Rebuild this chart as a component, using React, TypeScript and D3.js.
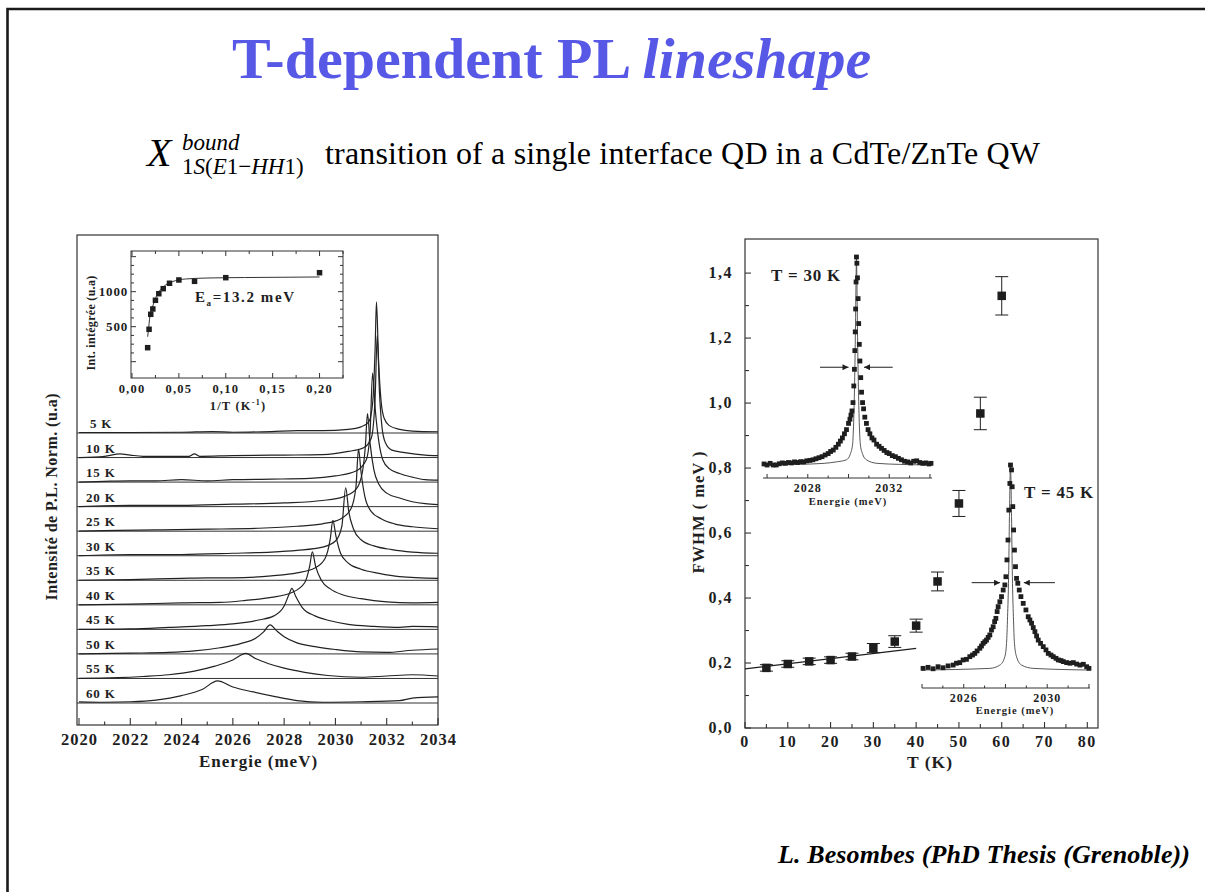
import React from "react";
import * as d3 from "d3";

type P = [number, number];

// ---------- LEFT: stacked PL spectra ----------
const temperatures = ["5 K", "10 K", "15 K", "20 K", "25 K", "30 K", "35 K", "40 K", "45 K", "50 K", "55 K", "60 K"];

const spec5K: P[] = [[2020, 0.02], [2022, 0.02], [2024, 0.03], [2025.2, 0.06], [2026, 0.03], [2027.5, 0.06], [2028.5, 0.1], [2029.5, 0.1], [2030.5, 0.15], [2031, 0.25], [2031.3, 0.45], [2031.45, 1.2], [2031.55, 3.5], [2031.6, 5.34], [2031.68, 3.0], [2031.78, 1.3], [2031.9, 0.6], [2032.1, 0.3], [2032.5, 0.15], [2033, 0.08], [2034, 0.05]];
const spec10K: P[] = [[2020, 0.0], [2021, 0.05], [2021.6, 0.15], [2022, 0.1], [2022.5, 0.05], [2024.3, 0.05], [2024.5, 0.15], [2024.7, 0.05], [2026, 0.08], [2028, 0.1], [2029.5, 0.12], [2030.5, 0.25], [2031.1, 0.4], [2031.4, 0.8], [2031.55, 2.5], [2031.63, 4.97], [2031.72, 2.6], [2031.82, 1.2], [2031.95, 0.6], [2032.2, 0.3], [2032.7, 0.2], [2033.5, 0.1], [2034, 0.08]];
const spec15K: P[] = [[2020, 0], [2021, 0.03], [2022, 0.05], [2023, 0.05], [2024, 0.1], [2025, 0.05], [2026, 0.1], [2027.5, 0.12], [2029, 0.15], [2030, 0.25], [2030.8, 0.45], [2031.2, 0.9], [2031.35, 2.0], [2031.45, 4.44], [2031.55, 3.0], [2031.7, 1.6], [2031.85, 0.9], [2032.1, 0.55], [2032.5, 0.35], [2033, 0.2], [2033.5, 0.1], [2034, 0.08]];
const spec20K: P[] = [[2020, 0], [2022, 0.05], [2024, 0.05], [2026, 0.1], [2028, 0.15], [2029.5, 0.25], [2030.3, 0.4], [2030.8, 0.7], [2031.05, 1.4], [2031.17, 2.5], [2031.25, 3.79], [2031.35, 2.6], [2031.5, 1.5], [2031.7, 0.9], [2032, 0.55], [2032.5, 0.35], [2033, 0.2], [2033.5, 0.12], [2034, 0.08]];
const spec25K: P[] = [[2020, 0], [2021.5, 0.03], [2023, 0.05], [2025, 0.08], [2027, 0.12], [2028.5, 0.2], [2029.5, 0.3], [2030.2, 0.5], [2030.6, 0.9], [2030.8, 1.8], [2030.9, 3.34], [2031.0, 2.4], [2031.15, 1.4], [2031.4, 0.8], [2031.8, 0.5], [2032.3, 0.3], [2033, 0.18], [2034, 0.1]];
const spec30K: P[] = [[2020, 0], [2022, 0.05], [2024, 0.05], [2026, 0.1], [2027.5, 0.15], [2028.5, 0.22], [2029.5, 0.35], [2030, 0.6], [2030.25, 1.2], [2030.4, 2.77], [2030.52, 1.8], [2030.7, 1.1], [2031, 0.65], [2031.5, 0.4], [2032.2, 0.25], [2033, 0.15], [2034, 0.1]];
const spec35K: P[] = [[2020, 0], [2022, 0.03], [2024, 0.08], [2025, 0.1], [2026, 0.1], [2027.5, 0.18], [2028.5, 0.3], [2029.2, 0.5], [2029.6, 0.9], [2029.8, 1.7], [2029.9, 2.44], [2030.02, 1.8], [2030.2, 1.1], [2030.5, 0.7], [2031, 0.45], [2031.7, 0.28], [2032.5, 0.15], [2034, 0.08]];
const spec40K: P[] = [[2020, 0], [2022, 0.03], [2024, 0.08], [2025.5, 0.1], [2026.5, 0.18], [2027.5, 0.3], [2028.3, 0.5], [2028.8, 0.9], [2029, 1.6], [2029.1, 2.16], [2029.22, 1.6], [2029.45, 1.0], [2029.8, 0.65], [2030.3, 0.4], [2031, 0.25], [2032, 0.12], [2033, 0.08], [2034, 0.1]];
const spec45K: P[] = [[2020, 0], [2022, 0.02], [2023.5, 0.08], [2025, 0.15], [2026, 0.22], [2027, 0.38], [2027.6, 0.55], [2028, 0.95], [2028.2, 1.45], [2028.3, 1.67], [2028.45, 1.35], [2028.7, 0.9], [2029.2, 0.55], [2029.8, 0.35], [2030.5, 0.2], [2031.5, 0.12], [2032.5, 0.08], [2033, 0.12], [2034, 0.1]];
const spec50K: P[] = [[2020, 0], [2022, 0.03], [2023.5, 0.06], [2024.5, 0.12], [2025.5, 0.25], [2026.3, 0.42], [2026.9, 0.65], [2027.2, 0.9], [2027.45, 1.18], [2027.7, 0.95], [2028, 0.7], [2028.5, 0.45], [2029.2, 0.3], [2030, 0.18], [2031, 0.08], [2032, 0.06], [2033, 0.15], [2034, 0.2]];
const spec55K: P[] = [[2020, 0], [2021.5, 0.03], [2022.5, 0.08], [2023.5, 0.15], [2024.5, 0.3], [2025.3, 0.5], [2026, 0.75], [2026.5, 1.02], [2026.9, 0.8], [2027.4, 0.6], [2028, 0.42], [2028.8, 0.25], [2029.7, 0.12], [2031, 0.05], [2032, 0.1], [2033, 0.15], [2034, 0.1]];
const spec60K: P[] = [[2020, 0.05], [2021, 0.03], [2022, 0.05], [2023, 0.12], [2024, 0.3], [2024.8, 0.55], [2025.4, 0.9], [2026, 0.65], [2026.8, 0.45], [2027.7, 0.25], [2028.5, 0.1], [2029.5, 0.03], [2031, 0.05], [2032.5, 0.1], [2033, 0.2], [2034, 0.25]];
const spectra = [spec5K, spec10K, spec15K, spec20K, spec25K, spec30K, spec35K, spec40K, spec45K, spec50K, spec55K, spec60K];

const energyTicks = [2020, 2022, 2024, 2026, 2028, 2030, 2032, 2034];

// inset: integrated intensity vs 1/T
const invT = [0.2, 0.1, 0.0667, 0.05, 0.04, 0.0333, 0.0286, 0.025, 0.0222, 0.02, 0.0182, 0.0167];
const intInteg = [1271, 1200, 1148, 1167, 1120, 1043, 971, 877, 753, 677, 463, 200];
const arrheniusFit: P[] = [[0.0167, 357], [0.0175, 450], [0.019, 640], [0.021, 740], [0.0246, 891], [0.028, 985], [0.033, 1063], [0.038, 1115], [0.043, 1143], [0.05, 1170], [0.057, 1181], [0.08, 1195], [0.12, 1202], [0.2, 1210]];
const invTTicks = [0, 0.05, 0.1, 0.15, 0.2];
const intTicks = [500, 1000];

// ---------- RIGHT: FWHM vs T ----------
const fwhmT = [5, 10, 15, 20, 25, 30, 35, 40, 45, 50, 55, 60];
const fwhmVal = [0.185, 0.197, 0.205, 0.209, 0.22, 0.246, 0.266, 0.315, 0.451, 0.691, 0.968, 1.33];
const fwhmErr = [0.01, 0.01, 0.01, 0.01, 0.01, 0.014, 0.018, 0.02, 0.029, 0.04, 0.05, 0.059];
const fwhmFit: P[] = [[0, 0.182], [40, 0.245]];
const tTicks = [0, 10, 20, 30, 40, 50, 60, 70, 80];
const fwhmTicks = [0, 0.2, 0.4, 0.6, 0.8, 1.0, 1.2, 1.4];

// inset T = 30 K
const inset30Data: P[] = [[2025.85, 0.005], [2026.0, 0.0], [2026.15, 0.008], [2026.3, 0.0], [2026.45, 0.0], [2026.6, 0.006], [2026.75, 0.01], [2026.9, 0.008], [2027.05, 0.012], [2027.2, 0.01], [2027.35, 0.015], [2027.5, 0.012], [2027.65, 0.016], [2027.8, 0.015], [2027.95, 0.02], [2028.1, 0.022], [2028.25, 0.025], [2028.4, 0.03], [2028.55, 0.035], [2028.7, 0.04], [2028.85, 0.048], [2029.0, 0.055], [2029.12, 0.065], [2029.25, 0.072], [2029.38, 0.085], [2029.5, 0.1], [2029.6, 0.115], [2029.7, 0.13], [2029.8, 0.15], [2029.9, 0.17], [2030.0, 0.2], [2030.07, 0.22], [2030.12, 0.24], [2030.17, 0.26], [2030.22, 0.3], [2030.26, 0.38], [2030.29, 0.46], [2030.31, 0.55], [2030.33, 0.64], [2030.35, 0.75], [2030.37, 0.88], [2030.39, 1.0], [2030.41, 0.97], [2030.44, 0.9], [2030.47, 0.8], [2030.5, 0.68], [2030.53, 0.58], [2030.56, 0.5], [2030.6, 0.42], [2030.64, 0.35], [2030.69, 0.3], [2030.74, 0.27], [2030.8, 0.23], [2030.88, 0.2], [2030.96, 0.17], [2031.05, 0.15], [2031.15, 0.13], [2031.25, 0.12], [2031.38, 0.1], [2031.5, 0.09], [2031.62, 0.08], [2031.75, 0.07], [2031.88, 0.06], [2032.0, 0.055], [2032.15, 0.045], [2032.3, 0.04], [2032.45, 0.032], [2032.6, 0.025], [2032.75, 0.018], [2032.9, 0.015], [2033.05, 0.01], [2033.2, 0.018], [2033.35, 0.02], [2033.5, 0.012], [2033.65, 0.008], [2033.8, 0.01], [2033.95, 0.005], [2034.05, 0.008]];
const inset30Fit: P[] = [[2025.85, 0.0], [2027.5, 0.003], [2028.8, 0.008], [2029.4, 0.015], [2029.9, 0.025], [2030.1, 0.056], [2030.2, 0.1], [2030.26, 0.23], [2030.3, 0.4], [2030.34, 0.65], [2030.37, 0.89], [2030.39, 1.0], [2030.41, 0.9], [2030.44, 0.65], [2030.48, 0.4], [2030.52, 0.23], [2030.58, 0.1], [2030.68, 0.056], [2030.88, 0.025], [2031.4, 0.008], [2032.5, 0.003], [2034.05, 0.0]];
const inset30Ticks = [2028, 2032];
const inset30Arrows = { h: 0.47, left: [2028.6, 2030.0], right: [2032.17, 2030.76] };

// inset T = 45 K
const inset45Data: P[] = [[2024.05, 0.008], [2024.29, 0.013], [2024.53, 0.006], [2024.77, 0.016], [2025.01, 0.011], [2025.25, 0.02], [2025.49, 0.024], [2025.65, 0.033], [2025.81, 0.036], [2025.97, 0.049], [2026.13, 0.052], [2026.29, 0.065], [2026.42, 0.073], [2026.53, 0.081], [2026.64, 0.093], [2026.77, 0.106], [2026.85, 0.117], [2026.93, 0.13], [2027.01, 0.138], [2027.09, 0.146], [2027.17, 0.159], [2027.25, 0.171], [2027.33, 0.195], [2027.41, 0.211], [2027.48, 0.236], [2027.54, 0.252], [2027.6, 0.285], [2027.65, 0.309], [2027.73, 0.333], [2027.81, 0.358], [2027.89, 0.39], [2027.97, 0.415], [2028.02, 0.455], [2028.07, 0.537], [2028.12, 0.634], [2028.16, 0.78], [2028.21, 0.91], [2028.24, 1.0], [2028.29, 0.976], [2028.32, 0.894], [2028.35, 0.797], [2028.39, 0.683], [2028.43, 0.585], [2028.48, 0.504], [2028.53, 0.447], [2028.59, 0.423], [2028.66, 0.39], [2028.74, 0.358], [2028.85, 0.325], [2028.98, 0.293], [2029.09, 0.26], [2029.17, 0.244], [2029.25, 0.228], [2029.33, 0.207], [2029.41, 0.187], [2029.49, 0.166], [2029.57, 0.146], [2029.68, 0.13], [2029.81, 0.114], [2029.94, 0.098], [2030.05, 0.081], [2030.18, 0.073], [2030.29, 0.065], [2030.42, 0.057], [2030.53, 0.049], [2030.66, 0.046], [2030.77, 0.041], [2030.93, 0.036], [2031.09, 0.033], [2031.25, 0.036], [2031.41, 0.029], [2031.57, 0.024], [2031.73, 0.028], [2031.89, 0.016], [2032.0, 0.008]];
const inset45Fit: P[] = [[2024.0, 0], [2027.25, 0.008], [2027.73, 0.024], [2027.97, 0.065], [2028.05, 0.13], [2028.1, 0.26], [2028.15, 0.455], [2028.19, 0.748], [2028.24, 1.0], [2028.29, 0.748], [2028.33, 0.455], [2028.38, 0.26], [2028.43, 0.13], [2028.53, 0.065], [2028.77, 0.024], [2029.33, 0.008], [2032.0, 0]];
const inset45Ticks = [2026, 2030];
const inset45Arrows = { h: 0.426, left: [2026.38, 2027.74], right: [2030.37, 2028.88] };

const SERIF = "Liberation Serif, Times New Roman, serif";
const INK = "#1e1e1e";
const comma = (v: number, d: number) => v.toFixed(d).replace(".", ",");

export default function App() {
  const xE = d3.scaleLinear().domain([2020, 2034]).range([79, 438]);
  const yOff = d3.scaleLinear().domain([0, 11]).range([703, 433]);
  const L = { x0: 77, x1: 438, y0: 235, y1: 725 };

  const xI = d3.scaleLinear().domain([0, 0.225]).range([132, 343]);
  const yI = d3.scaleLinear().domain([-233, 1581]).range([378, 251]);
  const I = { x0: 131, x1: 343, y0: 251, y1: 378 };

  const xT = d3.scaleLinear().domain([0, 82.5]).range([745, 1098]);
  const yF = d3.scaleLinear().domain([0, 1.508]).range([728, 238]);
  const R = { x0: 745, x1: 1098, y0: 239, y1: 728 };

  const xA = d3.scaleLinear().domain([2025.8, 2034.1]).range([763, 932]);
  const yA = d3.scaleLinear().domain([0, 1]).range([465, 257]);
  const axA = 478;
  const xB = d3.scaleLinear().domain([2024, 2032.05]).range([922, 1090]);
  const yB = d3.scaleLinear().domain([0, 1]).range([670, 465]);
  const axB = 688;

  const specLine = (off: number) =>
    d3.line<P>().x((d) => xE(d[0])).y((d) => yOff(off + d[1])).curve(d3.curveMonotoneX);
  const lineA = d3.line<P>().x((d) => xA(d[0])).y((d) => yA(d[1])).curve(d3.curveMonotoneX);
  const lineB = d3.line<P>().x((d) => xB(d[0])).y((d) => yB(d[1])).curve(d3.curveMonotoneX);
  const lineI = d3.line<P>().x((d) => xI(d[0])).y((d) => yI(d[1])).curve(d3.curveMonotoneX);
  const lineF = d3.line<P>().x((d) => xT(d[0])).y((d) => yF(d[1]));

  const sq = (cx: number, cy: number, s: number, key: string | number) => (
    <rect key={key} x={cx - s / 2} y={cy - s / 2} width={s} height={s} fill={INK} />
  );

  const minorE = d3.range(2020, 2035, 1);
  const minorInvT = d3.range(0, 0.2251, 0.025);
  const minorInt = d3.range(0, 1501, 125);
  const minorT = d3.range(0, 81, 5);
  const minorF = d3.range(0, 1.45, 0.1);

  const txt = { fontFamily: SERIF, fontWeight: 700, fill: INK } as const;

  return (
    <svg width={1205} height={892} style={{ position: "absolute", left: 0, top: 0, display: "block", background: "#fff" }}>
      <defs>
        <marker id="ah" viewBox="0 0 10 10" refX="10" refY="5" markerWidth="7" markerHeight="6" markerUnits="userSpaceOnUse" orient="auto">
          <path d="M0,0 L10,5 L0,10 z" fill={INK} />
        </marker>
      </defs>
      <rect x={0} y={0} width={1205} height={892} fill="#fff" />
      <path d="M7.5,892 L7.5,9 L1205,9" fill="none" stroke="#1a1a1a" strokeWidth={2.6} />

      {/* Title */}
      <text x={232} y={78} fontFamily={SERIF} fontWeight={700} fontSize={58} fill="#5858e6">
        <tspan>T-dependent PL </tspan>
        <tspan fontStyle="italic">lineshape</tspan>
      </text>

      {/* Subtitle */}
      <text x={147} y={166} fontFamily={SERIF} fontSize={40} fontStyle="italic" fill="#000">X</text>
      <text x={182} y={150} fontFamily={SERIF} fontSize={23} fontStyle="italic" fill="#000">bound</text>
      <text x={182} y={174} fontFamily={SERIF} fontSize={23} fill="#000">
        <tspan>1</tspan><tspan fontStyle="italic">S</tspan><tspan>(</tspan><tspan fontStyle="italic">E</tspan><tspan>1−</tspan><tspan fontStyle="italic">HH</tspan><tspan>1)</tspan>
      </text>
      <text x={325} y={164} fontFamily={SERIF} fontSize={32} textLength={715} fill="#000">transition of a single interface QD in a CdTe/ZnTe QW</text>

      {/* Footer */}
      <text x={778} y={863} fontFamily={SERIF} fontWeight={700} fontStyle="italic" fontSize={26} textLength={412} fill="#000">
        L. Besombes (PhD Thesis (Grenoble))
      </text>

      {/* ================= LEFT CHART ================= */}
      <g>
        <rect x={L.x0} y={L.y0} width={L.x1 - L.x0} height={L.y1 - L.y0} fill="none" stroke="#333" strokeWidth={1.2} />
        {minorE.map((v) => (
          <line key={"te" + v} x1={xE(v)} x2={xE(v)} y1={L.y1} y2={L.y1 - (v % 2 === 0 ? 7 : 3.5)} stroke="#333" strokeWidth={1.1} />
        ))}
        {energyTicks.map((v) => (
          <text key={"le" + v} x={xE(v)} y={745} textAnchor="middle" fontSize={16.5} textLength={36} {...txt}>{v}</text>
        ))}
        <text x={(L.x0 + L.x1) / 2 + 1} y={767} textAnchor="middle" fontSize={17} letterSpacing={1} {...txt}>Energie (meV)</text>
        <text transform="translate(57,497) rotate(-90)" textAnchor="middle" fontSize={16} textLength={207} {...txt}>Intensité de P.L. Norm. (u.a)</text>

        {spectra.map((s, i) => {
          const off = 11 - i;
          const yb = yOff(off);
          return (
            <g key={"sp" + i}>
              <line x1={L.x0} x2={L.x1} y1={yb} y2={yb} stroke="#333" strokeWidth={1} />
              <path d={specLine(off)(s) || ""} fill="none" stroke="#222" strokeWidth={1.2} />
              <text x={i === 0 ? 90 : 86} y={yb - 5} fontSize={13} letterSpacing={0.8} {...txt}>{temperatures[i]}</text>
            </g>
          );
        })}

        {/* inset */}
        <rect x={I.x0} y={I.y0} width={I.x1 - I.x0} height={I.y1 - I.y0} fill="#fff" stroke="#333" strokeWidth={1} />
        {minorInvT.map((v, k) => {
          const big = k % 2 === 0;
          return (
            <g key={"ti" + k}>
              <line x1={xI(v)} x2={xI(v)} y1={I.y1} y2={I.y1 - (big ? 5 : 3)} stroke="#333" />
              <line x1={xI(v)} x2={xI(v)} y1={I.y0} y2={I.y0 + (big ? 5 : 3)} stroke="#333" />
            </g>
          );
        })}
        {minorInt.map((v) => {
          const big = v % 500 === 0;
          return (
            <g key={"tj" + v}>
              <line x1={I.x0} x2={I.x0 + (big ? 5 : 3)} y1={yI(v)} y2={yI(v)} stroke="#333" />
              <line x1={I.x1} x2={I.x1 - (big ? 5 : 3)} y1={yI(v)} y2={yI(v)} stroke="#333" />
            </g>
          );
        })}
        {invTTicks.map((v) => (
          <text key={"li" + v} x={xI(v)} y={393} textAnchor="middle" fontSize={12.5} letterSpacing={1.2} {...txt}>{comma(v, 2)}</text>
        ))}
        {intTicks.map((v) => (
          <text key={"lj" + v} x={128} y={yI(v) + 4} textAnchor="end" fontSize={13} letterSpacing={0.8} {...txt}>{v}</text>
        ))}
        <text x={238} y={410} textAnchor="middle" fontSize={12.5} {...txt} letterSpacing={1.2}>
          1/T (K<tspan fontSize={8} dy={-5}>-1</tspan><tspan dy={5}>)</tspan>
        </text>
        <text transform="translate(95,323) rotate(-90)" textAnchor="middle" fontSize={12} letterSpacing={0.3} {...txt}>Int. intégrée (u.a)</text>
        <path d={lineI(arrheniusFit) || ""} fill="none" stroke="#333" strokeWidth={1} />
        {invT.map((v, k) => sq(xI(v), yI(intInteg[k]), 5.5, "ii" + k))}
        <text x={195} y={302} fontSize={15} {...txt} letterSpacing={1.6}>
          E<tspan fontSize={9} dy={4}>a</tspan><tspan dy={-4}>=13.2 meV</tspan>
        </text>
      </g>

      {/* ================= RIGHT CHART ================= */}
      <g>
        <rect x={R.x0} y={R.y0} width={R.x1 - R.x0} height={R.y1 - R.y0} fill="none" stroke="#333" strokeWidth={1.2} />
        {minorT.map((v) => (
          <line key={"tt" + v} x1={xT(v)} x2={xT(v)} y1={R.y1} y2={R.y1 - (v % 10 === 0 ? 6 : 4)} stroke="#333" strokeWidth={1.1} />
        ))}
        {minorF.map((v, k) => (
          <line key={"tf" + k} x1={R.x0} x2={R.x0 + (k % 2 === 0 ? 6 : 4)} y1={yF(v)} y2={yF(v)} stroke="#333" strokeWidth={1.1} />
        ))}
        {tTicks.map((v) => (
          <text key={"lt" + v} x={xT(v)} y={747} textAnchor="middle" fontSize={16} letterSpacing={1.5} {...txt}>{v}</text>
        ))}
        {fwhmTicks.map((v) => (
          <text key={"lf" + v} x={733} y={yF(v) + 5} textAnchor="end" fontSize={16} letterSpacing={1.5} {...txt}>{comma(v, 1)}</text>
        ))}
        <text x={930} y={768} textAnchor="middle" fontSize={17.5} letterSpacing={1} {...txt}>T (K)</text>
        <text transform="translate(704,512) rotate(-90)" textAnchor="middle" fontSize={16.5} letterSpacing={1} {...txt}>FWHM ( meV )</text>

        {/* inset 30 K */}
        <line x1={763} x2={932} y1={axA} y2={axA} stroke="#333" />
        {d3.range(2026, 2035, 1).map((v) => (
          <line key={"ta" + v} x1={xA(v)} x2={xA(v)} y1={axA} y2={axA - (v % 2 === 0 ? 4 : 2.5)} stroke="#333" />
        ))}
        {inset30Ticks.map((v) => (
          <text key={"la" + v} x={xA(v)} y={492} textAnchor="middle" fontSize={12} letterSpacing={1} {...txt}>{v}</text>
        ))}
        <text x={848} y={505} textAnchor="middle" fontSize={10.5} letterSpacing={1} {...txt}>Energie (meV)</text>
        <path d={lineA(inset30Fit) || ""} fill="none" stroke="#444" strokeWidth={0.9} />
        {inset30Data.map((d, k) => sq(xA(d[0]), yA(d[1]), 4.8, "a" + k))}
        <text x={771} y={281} fontSize={17} letterSpacing={0.8} {...txt}>T = 30 K</text>
        <line x1={xA(inset30Arrows.left[0])} x2={xA(inset30Arrows.left[1])} y1={yA(inset30Arrows.h)} y2={yA(inset30Arrows.h)} stroke={INK} strokeWidth={1} markerEnd="url(#ah)" />
        <line x1={xA(inset30Arrows.right[0])} x2={xA(inset30Arrows.right[1])} y1={yA(inset30Arrows.h)} y2={yA(inset30Arrows.h)} stroke={INK} strokeWidth={1} markerEnd="url(#ah)" />

        {/* inset 45 K */}
        <line x1={922} x2={1090} y1={axB} y2={axB} stroke="#333" />
        {d3.range(2024, 2033, 1).map((v) => (
          <line key={"tb" + v} x1={xB(v)} x2={xB(v)} y1={axB} y2={axB - (v % 2 === 0 ? 4 : 2.5)} stroke="#333" />
        ))}
        {inset45Ticks.map((v) => (
          <text key={"lb" + v} x={xB(v)} y={702} textAnchor="middle" fontSize={12} letterSpacing={1} {...txt}>{v}</text>
        ))}
        <text x={1015} y={714} textAnchor="middle" fontSize={10.5} letterSpacing={1} {...txt}>Energie (meV)</text>
        <path d={lineB(inset45Fit) || ""} fill="none" stroke="#444" strokeWidth={0.9} />
        {inset45Data.map((d, k) => sq(xB(d[0]), yB(d[1]), 4.8, "b" + k))}
        <text x={1024} y={498} fontSize={17} letterSpacing={0.8} {...txt}>T = 45 K</text>
        <line x1={xB(inset45Arrows.left[0])} x2={xB(inset45Arrows.left[1])} y1={yB(inset45Arrows.h)} y2={yB(inset45Arrows.h)} stroke={INK} strokeWidth={1} markerEnd="url(#ah)" />
        <line x1={xB(inset45Arrows.right[0])} x2={xB(inset45Arrows.right[1])} y1={yB(inset45Arrows.h)} y2={yB(inset45Arrows.h)} stroke={INK} strokeWidth={1} markerEnd="url(#ah)" />

        {/* FWHM data */}
        <path d={lineF(fwhmFit) || ""} fill="none" stroke={INK} strokeWidth={1.2} />
        {fwhmT.map((t, k) => {
          const x = xT(t);
          const ylo = yF(fwhmVal[k] - fwhmErr[k]);
          const yhi = yF(fwhmVal[k] + fwhmErr[k]);
          return (
            <g key={"f" + k}>
              <line x1={x} x2={x} y1={ylo} y2={yhi} stroke={INK} strokeWidth={1} />
              <line x1={x - 6.5} x2={x + 6.5} y1={ylo} y2={ylo} stroke={INK} strokeWidth={1} />
              <line x1={x - 6.5} x2={x + 6.5} y1={yhi} y2={yhi} stroke={INK} strokeWidth={1} />
              {sq(x, yF(fwhmVal[k]), 8.5, "fs" + k)}
            </g>
          );
        })}
      </g>
    </svg>
  );
}
